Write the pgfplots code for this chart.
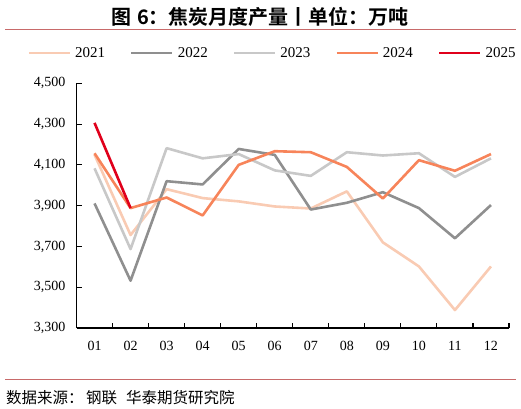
\documentclass[border=0pt]{standalone}
\usepackage{fontspec}
\setmainfont{Liberation Serif}
\newfontfamily\cjk{Noto Sans CJK SC}
\newfontfamily\cjkb{Noto Sans CJK SC Bold}
\usepackage{pgfplots}
\pgfplotsset{compat=1.18}
\definecolor{c21}{HTML}{F9CBB3}
\definecolor{c22}{HTML}{8F8F8F}
\definecolor{c23}{HTML}{C8C8C8}
\definecolor{c24}{HTML}{F7845A}
\definecolor{c25}{HTML}{E0001B}
\definecolor{rule}{HTML}{C86A6A}
\begin{document}
\begin{tikzpicture}[x=1bp,y=1bp]
\path[use as bounding box] (0,0) rectangle (521,408);
\node[font=\cjkb\fontsize{20bp}{22bp}\selectfont] at (260,391.5) {图\hspace{6bp}6：焦炭月度产量丨单位：万吨};
\draw[rule,line width=1.2bp] (5,378.7) -- (516,378.7);
\draw[rule,line width=1.2bp] (5,28.7) -- (516,28.7);
\node[anchor=west,font=\cjk\fontsize{15.5bp}{17bp}\selectfont,inner sep=0pt] at (6,10) {数据来源：\hspace{2.5bp}钢联\hspace{9bp}华泰期货研究院};
\begin{axis}[
  scale only axis,
  width=432.5bp, height=244.7bp,
  at={(76.5bp,80bp)}, anchor=south west,
  xmin=0.5, xmax=12.5, ymin=3300, ymax=4500,
  axis x line=bottom, axis y line=left,
  axis line style={-, line width=1.1bp, black},
  xtick={1,...,12},
  xticklabels={01,02,03,04,05,06,07,08,09,10,11,12},
  minor xtick={0.5,1.5,...,12.5},
  ytick={3300,3500,3700,3900,4100,4300,4500},
  tick align=inside,
  major tick length=5bp, minor tick length=5bp,
  major x tick style={draw=none},
  minor x tick style={black, line width=1.1bp},
  major y tick style={black, line width=1.1bp},
  /pgf/number format/assume math mode=true,
  /pgf/number format/.cd, 1000 sep={,}, /pgfplots/.cd,
  tick label style={font=\fontsize{14bp}{16bp}\selectfont},
  yticklabel style={inner sep=0pt, anchor=east, xshift=-11bp},
  xticklabel style={inner sep=0pt, anchor=north, yshift=-13bp},
  legend columns=5,
  legend style={at={(0.451,1.124)}, anchor=center, draw=none, fill=none,
    font=\fontsize{15bp}{17bp}\selectfont, inner sep=0pt,
    nodes={inner sep=0pt},
    /tikz/every odd column/.append style={column sep=4bp},
    /tikz/every even column/.append style={column sep=25bp}},
  legend image code/.code={\draw[#1] (0bp,0bp) -- (41bp,0bp);},
  every axis plot/.append style={line width=2.6bp, mark=none, line join=round},
]
\addplot[c21] coordinates {(1,4150)(2,3756)(3,3981)(4,3937)(5,3921)(6,3896)(7,3886)(8,3970)(9,3720)(10,3602)(11,3388)(12,3602)};
\addlegendentry{2021}
\addplot[c22] coordinates {(1,3911)(2,3532)(3,4020)(4,4004)(5,4178)(6,4149)(7,3881)(8,3914)(9,3966)(10,3888)(11,3740)(12,3903)};
\addlegendentry{2022}
\addplot[c23] coordinates {(1,4083)(2,3687)(3,4182)(4,4132)(5,4153)(6,4073)(7,4046)(8,4162)(9,4146)(10,4157)(11,4041)(12,4132)};
\addlegendentry{2023}
\addplot[c24] coordinates {(1,4157)(2,3888)(3,3940)(4,3852)(5,4100)(6,4167)(7,4162)(8,4090)(9,3935)(10,4123)(11,4071)(12,4153)};
\addlegendentry{2024}
\addplot[c25] coordinates {(1,4306)(2,3888)};
\addlegendentry{2025}
\end{axis}
\end{tikzpicture}
\end{document}
